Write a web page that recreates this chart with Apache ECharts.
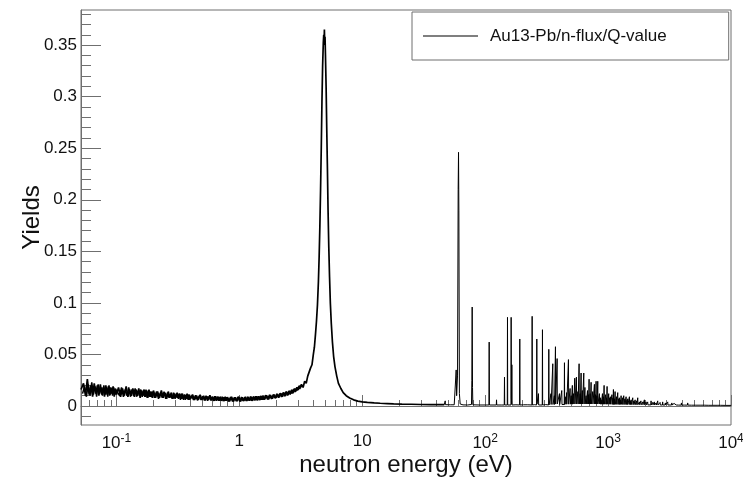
<!DOCTYPE html>
<html><head><meta charset="utf-8">
<script src="https://cdn.jsdelivr.net/npm/echarts@6/dist/echarts.min.js"></script>
<style>html,body{margin:0;padding:0;background:#fff}#c{width:743px;height:480px}</style>
</head><body><div id="c"></div>
<script>
const seriesName = 'Au13-Pb/n-flux/Q-value';
const xTitle = 'neutron energy (eV)';
const yTitle = 'Yields';
const xRange = [0.0515, 10000];
const yRange = [-0.0184, 0.384];
const xMajorTicks = [0.1, 1, 10, 100, 1000, 10000];
const xMinorTicks = [0.06,0.07,0.08,0.09, 0.2,0.3,0.4,0.5,0.6,0.7,0.8,0.9, 2,3,4,5,6,7,8,9,
  20,30,40,50,60,70,80,90, 200,300,400,500,600,700,800,900, 2000,3000,4000,5000,6000,7000,8000,9000];
const yMajorTicks = [0, 0.05, 0.1, 0.15, 0.2, 0.25, 0.3, 0.35];
const yMinorTicks = [-0.01, 0.01,0.02,0.03,0.04, 0.06,0.07,0.08,0.09, 0.11,0.12,0.13,0.14, 0.16,0.17,0.18,0.19,
  0.21,0.22,0.23,0.24, 0.26,0.27,0.28,0.29, 0.31,0.32,0.33,0.34, 0.36,0.37,0.38];

// noisy low-energy band (read as alternating upper/lower excursions)
const bandEnergy = [
  0.0515,0.054,0.056,0.058,0.060,0.062,0.064,0.066,0.068,0.070,0.072,0.074,0.076,0.078,0.080,0.082,0.084,0.086,0.088,0.090,0.092,0.094,0.096,0.098,
  0.100,0.104,0.108,0.112,0.116,0.120,0.124,0.128,0.132,0.136,0.140,0.144,0.148,0.152,0.156,0.160,0.164,0.168,0.172,0.176,0.180,0.184,0.188,0.192,0.196,
  0.200,0.208,0.216,0.224,0.232,0.240,0.248,0.256,0.264,0.272,0.280,0.288,0.296,0.304,0.312,0.320,0.328,0.336,0.344,0.352,0.360,0.368,0.376,0.384,0.392,
  0.400,0.416,0.432,0.448,0.464,0.480,0.496,0.512,0.528,0.544,0.560,0.576,0.592,0.608,0.624,0.640,0.656,0.672,0.688,0.704,0.720,0.736,0.752,0.768,0.784,
  0.800,0.832,0.864,0.896,0.928,0.960,0.992,1.024,1.056,1.088,1.120,1.152,1.184,1.216,1.248,1.280,1.312,1.344,1.376,1.408,1.440,1.472,1.504,1.536,1.568,
  1.600,1.664,1.728,1.792,1.856,1.920,1.984,2.048,2.112,2.176,2.240,2.304,2.368,2.432,2.496,2.560,2.624,2.688,2.752,2.816,2.880,2.944,3.008,3.072,3.136
];
const bandYield = [
  0.016,0.022,0.010,0.026,0.011,0.020,0.009,0.022,0.012,0.020,0.010,0.021,0.011,0.018,0.009,0.020,0.011,0.019,0.010,0.018,0.012,0.019,0.009,0.017,
  0.011,0.018,0.009,0.017,0.010,0.019,0.009,0.016,0.010,0.017,0.009,0.016,0.010,0.017,0.008,0.015,0.010,0.016,0.009,0.015,0.008,0.016,0.009,0.014,0.008,
  0.015,0.008,0.014,0.008,0.015,0.008,0.013,0.007,0.014,0.008,0.013,0.007,0.012,0.008,0.013,0.007,0.012,0.007,0.012,0.006,0.011,0.007,0.012,0.006,0.011,
  0.007,0.011,0.006,0.010,0.006,0.011,0.006,0.010,0.0055,0.0095,0.006,0.0105,0.0055,0.009,0.005,0.0095,0.0055,0.009,0.005,0.009,0.005,0.0085,0.0048,0.009,0.005,
  0.0085,0.0045,0.009,0.0045,0.0085,0.0048,0.0088,0.0045,0.0085,0.005,0.009,0.005,0.0088,0.0052,0.009,0.005,0.0092,0.0055,0.0095,0.0055,0.0095,0.0058,0.0098,0.006,0.010,
  0.0062,0.0102,0.0065,0.0105,0.0072,0.011,0.0078,0.0115,0.0085,0.0122,0.009,0.013,0.0098,0.0138,0.0108,0.0148,0.0118,0.0158,0.013,0.017,0.0142,0.0182,0.0158,0.0198,0.0175
];
// second interleaved set of band points (between the ones above)
const bandEnergy2 = [
  0.053,0.055,0.057,0.059,0.061,0.063,0.065,0.067,0.069,0.071,0.073,0.075,0.077,0.079,0.081,0.083,0.085,0.087,0.089,0.091,0.093,0.095,0.097,0.099,
  0.102,0.106,0.110,0.114,0.118,0.122,0.126,0.130,0.134,0.138,0.142,0.146,0.150,0.154,0.158,0.162,0.166,0.170,0.174,0.178,0.182,0.186,0.190,0.194,0.198,
  0.204,0.212,0.220,0.228,0.236,0.244,0.252,0.260,0.268,0.276,0.284,0.292,0.300,0.308,0.316,0.324,0.332,0.340,0.348,0.356,0.364,0.372,0.380,0.388,0.396,
  0.408,0.424,0.440,0.456,0.472,0.488,0.504,0.520,0.536,0.552,0.568,0.584,0.600,0.616,0.632,0.648,0.664,0.680,0.696,0.712,0.728,0.744,0.760,0.776,0.792,
  0.816,0.848,0.880,0.912,0.944,0.976,1.008,1.040,1.072,1.104,1.136,1.168,1.200,1.232,1.264,1.296,1.328,1.360,1.392,1.424,1.456,1.488,1.520,1.552,1.584,
  1.632,1.696,1.760,1.824,1.888,1.952,2.016,2.080,2.144,2.208,2.272,2.336,2.400,2.464,2.528,2.592,2.656,2.720,2.784,2.848,2.912,2.976,3.040,3.104,3.168
];
const bandYield2 = [
  0.012,0.019,0.009,0.021,0.010,0.023,0.011,0.019,0.009,0.021,0.012,0.018,0.010,0.020,0.011,0.018,0.009,0.020,0.011,0.017,0.010,0.018,0.011,0.016,
  0.017,0.010,0.018,0.009,0.016,0.010,0.018,0.009,0.016,0.010,0.017,0.009,0.015,0.010,0.016,0.009,0.015,0.009,0.016,0.008,0.015,0.009,0.014,0.009,0.014,
  0.008,0.014,0.007,0.013,0.008,0.014,0.007,0.013,0.008,0.012,0.007,0.013,0.007,0.012,0.008,0.012,0.006,0.012,0.007,0.011,0.006,0.011,0.007,0.011,0.006,
  0.010,0.006,0.0105,0.0055,0.010,0.006,0.0095,0.0055,0.010,0.005,0.0095,0.0055,0.009,0.005,0.0095,0.0052,0.009,0.005,0.0088,0.005,0.009,0.0048,0.0085,0.005,0.0085,
  0.0045,0.0088,0.0045,0.0085,0.0048,0.009,0.0045,0.0088,0.005,0.0085,0.005,0.009,0.005,0.0092,0.0052,0.009,0.0055,0.0094,0.0055,0.0096,0.0057,0.0098,0.006,0.0099,0.006,
  0.0105,0.0064,0.0108,0.0068,0.0112,0.0075,0.0118,0.008,0.0125,0.0088,0.0132,0.0094,0.014,0.0102,0.0145,0.0112,0.0155,0.0122,0.0165,0.0135,0.0175,0.015,0.019,0.0165,0.020
];

// 4.9 eV resonance and its tail
const peakEnergy = [3.2,3.3,3.4,3.5,3.6,3.7,3.8,3.9,4.0,4.08,4.16,4.24,4.32,4.40,4.46,4.52,4.58,4.64,4.70,4.76,4.82,4.86,4.89,4.92,4.95,4.98,
  5.02,5.08,5.14,5.20,5.27,5.34,5.42,5.50,5.60,5.72,5.85,6.0,6.2,6.4,6.7,7.0,7.4,7.9,8.5,9.2,10,11,12.5,14,16,18,21,25,30,36,42,46.5];
const peakYield = [0.021,0.018,0.024,0.022,0.029,0.029,0.037,0.040,0.050,0.057,0.069,0.082,0.098,0.121,0.145,0.174,0.21,0.25,0.295,0.33,0.352,0.36,0.35,0.365,0.352,0.358,
  0.34,0.31,0.27,0.235,0.19,0.155,0.125,0.1,0.08,0.062,0.048,0.038,0.029,0.022,0.017,0.013,0.010,0.0078,0.006,0.0048,0.004,0.0035,0.003,0.0027,0.0024,0.0021,0.0019,0.0017,0.0015,0.0014,0.0013,0.0013];

// resolved resonance region
const resEnergy = [
  47.1,47.3,47.5, 52,56,
  57.6,58.1,58.6,59.6,60.3,60.7,61.1,61.7,62.6, 66,72,
  77.4,77.9,78.4,78.9,79.4, 90,100,
  107.3,107.8,108.3, 118,
  123.2,123.7,124.2, 135,
  143.0,143.6,144.2,
  151.3,151.9,152.5, 157,
  162.1,162.7,163.4,164.3,164.8,165.4, 178,
  190.6,191.3,192.0, 205,222,
  240.1,241.1,242.1, 252,
  262.1,263.1,264.1,
  270.4,271.4,272.4, 282,
  291.4,292.5,293.6, 311,
  328.1,329.4,330.7,
  342,343,344,
  353.5,354.9,356.3,
  364,365.5,367,
  371.6,373.1,374.6,
  383.4,384.9,386.4,
  400.6,402.2,403.8,
  418.3,420,421.7,
  439.8,441.6,443.4,
  451,452.5,454,
  458.2,460,461.8,
  474,475.9,477.8,
  488.9,490.9,492.9,
  499,501,503,
  510,512,514,
  522,524,526,
  533.6,535.8,538,
  550.5,552.7,554.9,
  565.7,568,570.3,
  578.7,581,583.3,
  590,592.5,595,
  600.9,603.3,605.7,
  615,617.5,620,
  631.7,634.2,636.7,
  645.4,648,650.6,
  659.8,662.4,665,
  677.3,680,682.7,
  689,691.7,694.4,
  697.8,700.6,703.4,
  712,715,718,
  724.6,727.5,730.4,
  747,750,753,
  771.1,774.2,777.3,
  786,789,792,
  795.5,798.7,801.9,
  808,811,814,
  820.8,824.1,827.4,
  846.6,850,853.4,
  863,866.5,870,
  873.9,877.4,880.9,
  896.4,900,903.6,
  913,916.5,920,
  924.4,928.1,931.8,
  951.2,955,958.8,
  966,970,974,
  977.6,981.5,985.4,
  1008,1012,1016,
  1027,1031,1035,
  1040.5,1044.7,1048.9,
  1071,1075,1079,
  1090,1094,1098,
  1100.6,1105,1109.4,
  1122,1126,1130,
  1135.4,1140,1144.6,
  1165.3,1170,1174.7,
  1193.2,1198,1202.8,
  1216,1221,1226,
  1230,1235,1240,
  1255,1260,1265,
  1271,1276,1281,
  1305,1310,1315,
  1335.6,1341,1346.4,
  1364.5,1370,1375.5,
  1395.4,1401,1406.6,
  1420,1425.7,1431.4,
  1439,1445,1451,
  1485,1491,1497,
  1510,1516,1522,
  1534,1540,1546,
  1580.6,1587,1593.4,
  1613,1619.5,1626,
  1653,1660,1667,
  1700,1707,1714,
  1736,1743,1750,
  1793,1800,1807,
  1843,1850,1857,
  1905,1913,1921,
  1966,1974,1982,
  2032,2040,2048,
  2092,2100,2108,
  2170,2178,2186,
  2228,2237,2246,
  2300,2309,2318,
  2370,2380,2390,
  2450,2460,2470,
  2524,2534,2544,
  2640,2650,2660,
  2769,2780,2791,
  2910,2922,2934,
  3044,3056,3068,
  3150,3163,3176,
  3287,3300,3313,
  3430,3444,3458,
  3558,3572,3586,
  3730,3745,3760,
  3934,3950,3966,
  4160,4177,4194,
  4425,4443,4461,
  4780,4800,4820,
  5179,5200,5221,
  5600,5622,5644,
  6047,6071,6095,
  6600,6626,6652,
  7072,7100,7128,
  7700,7730,7760,
  8258,8291,8324,
  9000,9036,9072,
  10000
];
const resYield = [
  0.0013,0.005,0.0013, 0.0012,0.0012,
  0.002,0.035,0.01,0.03,0.21,0.246,0.19,0.012,0.002, 0.0011,0.001,
  0.0015,0.025,0.096,0.018,0.0012, 0.001,0.001,
  0.001,0.062,0.001, 0.001,
  0.001,0.006,0.001, 0.001,
  0.001,0.028,0.001,
  0.001,0.086,0.001, 0.0012,
  0.001,0.086,0.008,0.002,0.04,0.001, 0.0012,
  0.001,0.065,0.001, 0.0012,0.0012,
  0.001,0.087,0.001, 0.0013,
  0.001,0.065,0.002,
  0.001,0.012,0.001, 0.0013,
  0.001,0.074,0.001, 0.0014,
  0.001,0.055,0.001,
  0.0015,0.012,0.0015,
  0.001,0.041,0.0015,
  0.0015,0.01,0.0015,
  0.0015,0.0575,0.002,
  0.0015,0.046,0.002,
  0.0015,0.012,0.0015,
  0.0015,0.015,0.0015,
  0.0015,0.042,0.0015,
  0.0018,0.009,0.0018,
  0.0015,0.013,0.0018,
  0.0015,0.045,0.0018,
  0.0018,0.017,0.0018,
  0.002,0.01,0.002,
  0.0018,0.02,0.0018,
  0.002,0.012,0.002,
  0.0018,0.027,0.002,
  0.0018,0.028,0.002,
  0.002,0.014,0.002,
  0.002,0.041,0.002,
  0.002,0.012,0.002,
  0.002,0.032,0.002,
  0.002,0.015,0.002,
  0.002,0.032,0.002,
  0.002,0.018,0.002,
  0.002,0.01,0.002,
  0.002,0.015,0.002,
  0.002,0.011,0.002,
  0.002,0.026,0.002,
  0.002,0.012,0.002,
  0.002,0.023,0.002,
  0.002,0.014,0.002,
  0.002,0.021,0.002,
  0.002,0.011,0.002,
  0.002,0.024,0.002,
  0.002,0.01,0.002,
  0.002,0.024,0.002,
  0.002,0.012,0.002,
  0.0018,0.008,0.0018,
  0.0018,0.006,0.0018,
  0.0018,0.012,0.0018,
  0.0018,0.009,0.0018,
  0.0018,0.02,0.0018,
  0.0018,0.011,0.0018,
  0.0018,0.008,0.0018,
  0.0018,0.019,0.0018,
  0.0018,0.012,0.0018,
  0.0018,0.008,0.0018,
  0.0018,0.009,0.0018,
  0.0016,0.011,0.0016,
  0.0016,0.008,0.0016,
  0.0016,0.016,0.0016,
  0.0016,0.007,0.0016,
  0.0016,0.014,0.0016,
  0.0016,0.009,0.0016,
  0.0016,0.013,0.0016,
  0.0016,0.007,0.0016,
  0.0016,0.008,0.0016,
  0.0016,0.006,0.0016,
  0.0016,0.01,0.0016,
  0.0015,0.008,0.0015,
  0.0015,0.01,0.0015,
  0.0015,0.007,0.0015,
  0.0015,0.009,0.0015,
  0.0015,0.006,0.0015,
  0.0015,0.007,0.0015,
  0.0015,0.009,0.0015,
  0.0015,0.005,0.0015,
  0.0014,0.006,0.0014,
  0.0014,0.008,0.0014,
  0.0014,0.005,0.0014,
  0.0014,0.006,0.0014,
  0.0013,0.005,0.0013,
  0.0013,0.008,0.0013,
  0.0013,0.004,0.0013,
  0.0012,0.005,0.0012,
  0.0012,0.004,0.0012,
  0.0012,0.006,0.0012,
  0.0012,0.004,0.0012,
  0.0011,0.004,0.0011,
  0.0011,0.003,0.0011,
  0.0011,0.005,0.0011,
  0.0011,0.0035,0.0011,
  0.001,0.004,0.001,
  0.001,0.003,0.001,
  0.001,0.005,0.001,
  0.001,0.0035,0.001,
  0.001,0.004,0.001,
  0.001,0.003,0.001,
  0.001,0.004,0.001,
  0.001,0.0025,0.001,
  0.001,0.003,0.001,
  0.001,0.0025,0.001,
  0.001,0.004,0.001,
  0.0009,0.0025,0.0009,
  0.0009,0.003,0.0009,
  0.0009,0.0022,0.0009,
  0.0009,0.003,0.0009,
  0.0008,0.002,0.0008,
  0.0008,0.002,0.0008,
  0.0008,0.0018,0.0008,
  0.0008,0.002,0.0008,
  0.0007,0.0016,0.0007,
  0.0007,0.0018,0.0007,
  0.0007,0.0015,0.0007,
  0.0007,0.002,0.0007,
  0.0006,0.0014,0.0006,
  0.0006
];

// low-energy part (band + 4.9 eV peak) drawn with a heavier stroke, resonance part thin
const lowE = bandEnergy.concat(peakEnergy);
const lowY = bandYield.concat(peakYield);
const lowData = lowE.map((e, i) => [e, lowY[i]]);
const band2Data = bandEnergy2.map((e, i) => [e, bandYield2[i]]);
const highData = [[peakEnergy[peakEnergy.length - 1], peakYield[peakYield.length - 1]]]
  .concat(resEnergy.map((e, i) => [e, resYield[i]]));

const frameColor = '#6f6f6f';
const textColor = '#111';
const font = '"Liberation Sans", Arial, Helvetica, sans-serif';

function xLabel(v) {
  const p = Math.round(Math.log10(v));
  if (p === 0) return '1';
  if (p === 1) return '10';
  return '10{sup|' + p + '}';
}

const lineBase = {type: 'line', name: seriesName, xAxisIndex: 0, yAxisIndex: 0, symbol: 'none', showSymbol: false, clip: true, itemStyle: {color: '#000'}};

const chart = echarts.init(document.getElementById('c'), null, {renderer: 'canvas'});
chart.setOption({
  animation: false,
  backgroundColor: '#fff',
  textStyle: {fontFamily: font},
  grid: {left: 81, right: 12, top: 10, bottom: 55, show: true, borderColor: frameColor, borderWidth: 1,
    backgroundColor: 'transparent', containLabel: false, outerBoundsMode: 'none'},
  legend: {
    show: true, left: 412, top: 12, orient: 'horizontal',
    data: [seriesName],
    icon: 'rect', itemWidth: 55, itemHeight: 1,
    itemStyle: {color: '#000'},
    padding: [14, 62, 14, 11],
    borderColor: frameColor, borderWidth: 1, backgroundColor: '#fff',
    textStyle: {fontSize: 17, color: textColor, fontFamily: font, padding: [0, 0, 0, 7], lineHeight: 20}
  },
  xAxis: [{
    type: 'log', logBase: 10, min: xRange[0], max: xRange[1], position: 'bottom', gridIndex: 0,
    name: xTitle, nameLocation: 'middle', nameGap: 28, nameMoveOverlap: false,
    nameTextStyle: {fontSize: 24, color: textColor, fontFamily: font},
    axisLine: {show: true, lineStyle: {color: frameColor, width: 1}},
    axisTick: {show: true, inside: true, length: 11, customValues: xMajorTicks, lineStyle: {color: frameColor}},
    axisLabel: {show: true, customValues: xMajorTicks, formatter: xLabel, margin: 8, fontSize: 17, color: textColor, fontFamily: font,
      rich: {sup: {fontSize: 12, color: textColor, fontFamily: font, verticalAlign: 'top', padding: [0, 0, 9, 0]}}},
    splitLine: {show: false}, minorTick: {show: false}, minorSplitLine: {show: false}
  }, {
    type: 'log', logBase: 10, min: xRange[0], max: xRange[1], position: 'bottom', gridIndex: 0, offset: 0,
    axisLine: {show: false},
    axisTick: {show: true, inside: true, length: 6, customValues: xMinorTicks, lineStyle: {color: frameColor}},
    axisLabel: {show: false},
    splitLine: {show: false}
  }],
  yAxis: [{
    type: 'value', min: yRange[0], max: yRange[1], position: 'left', gridIndex: 0,
    name: yTitle, nameLocation: 'middle', nameGap: 37, nameRotate: 90, nameMoveOverlap: false,
    nameTextStyle: {fontSize: 24, color: textColor, fontFamily: font},
    axisLine: {show: true, lineStyle: {color: frameColor, width: 1}},
    axisTick: {show: true, inside: true, length: 20, customValues: yMajorTicks, lineStyle: {color: frameColor}},
    axisLabel: {show: true, customValues: yMajorTicks, margin: 4, fontSize: 17, color: textColor, fontFamily: font},
    splitLine: {show: false}
  }, {
    type: 'value', min: yRange[0], max: yRange[1], position: 'left', gridIndex: 0, offset: 0,
    axisLine: {show: false},
    axisTick: {show: true, inside: true, length: 10, customValues: yMinorTicks, lineStyle: {color: frameColor}},
    axisLabel: {show: false},
    splitLine: {show: false}
  }],
  series: [
    Object.assign({}, lineBase, {data: lowData, lineStyle: {color: '#000', width: 1.7}}),
    Object.assign({}, lineBase, {data: band2Data, lineStyle: {color: '#000', width: 1.5}}),
    Object.assign({}, lineBase, {data: highData, lineStyle: {color: '#000', width: 1}})
  ]
});
</script>
</body></html>
